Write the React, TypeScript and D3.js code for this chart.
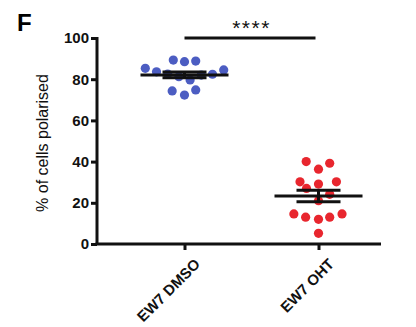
import React, { useEffect, useRef } from 'react';
import * as d3 from 'd3';

const groups = ['EW7 DMSO', 'EW7 OHT'];
const groupColors = ['#4c5dc2', '#e8262e'];
// % of cells polarised, one value per field
const dmsoValues = [89.3, 88.5, 88.8, 85.3, 83.6, 82.5, 81.2, 79.6, 82.0, 82.4, 84.5, 74.3, 72.3, 74.8];
const ohtValues = [40.0, 36.3, 39.2, 30.2, 27.0, 29.1, 30.2, 24.1, 21.0, 14.6, 13.0, 12.0, 13.0, 14.6, 5.2];
// horizontal scatter slot of every point (in dot widths)
const dmsoSlots = [-1, 0, 1, -3.5, -2.5, -1.5, -0.5, 0.5, 1.5, 2.5, 3.5, -1.1, 0, 1];
const ohtSlots = [-1.1, 0, 1, -1.65, -1.07, 0, 1.6, 1, 0, -2.2, -1.15, 0, 1, 2.1, 0];
const yTicks = [0, 20, 40, 60, 80, 100];
const significance = '****';

function App() {
  const svgRef = useRef<SVGSVGElement>(null);
  const width = 416;
  const height = 327;

  useEffect(() => {
    const svg = d3.select(svgRef.current);
    svg.selectAll('*').remove();

    const font = 'Liberation Sans, Arial, sans-serif';
    const left = 97, right = 381, top = 38, bottom = 244;

    const y = d3.scaleLinear().domain([0, 100]).range([bottom, top]);
    const x = d3.scalePoint<string>().domain(groups).range([184.5, 318.5]);
    const slot = d3.scaleLinear().domain([0, 1]).range([0, 11.2]);

    // panel letter
    svg.append('text')
      .attr('x', 17).attr('y', 31)
      .attr('font-family', font).attr('font-weight', 'bold').attr('font-size', 24)
      .text('F');

    // y axis
    const yAxis = svg.append('g')
      .attr('transform', `translate(${left},0)`)
      .call(d3.axisLeft(y).tickValues(yTicks).tickSize(6).tickPadding(2));
    yAxis.select('.domain').attr('stroke', '#111').attr('stroke-width', 3)
      .attr('d', `M0,${top - 1}V${bottom}`);
    yAxis.selectAll('.tick line').attr('stroke', '#111').attr('stroke-width', 3);
    yAxis.selectAll('.tick text')
      .attr('font-family', font).attr('font-weight', 'bold').attr('font-size', 15)
      .attr('fill', '#111');

    // x axis
    const xAxis = svg.append('g')
      .attr('transform', `translate(0,${bottom})`)
      .call(d3.axisBottom(x).tickSize(6));
    xAxis.select('.domain').attr('stroke', '#111').attr('stroke-width', 3)
      .attr('d', `M${left - 1.5},0H${right}`);
    xAxis.selectAll('.tick line').attr('stroke', '#111').attr('stroke-width', 3);
    xAxis.selectAll('.tick text')
      .attr('font-family', font).attr('font-weight', 'bold').attr('font-size', 15)
      .attr('fill', '#111')
      .attr('text-anchor', 'end')
      .attr('transform', 'translate(6,11) rotate(-45)')
      .attr('dy', '0.35em');

    // y label
    svg.append('text')
      .attr('transform', `translate(48,${(top + bottom) / 2 + 2}) rotate(-90)`)
      .attr('text-anchor', 'middle')
      .attr('font-family', font).attr('font-size', 16)
      .attr('fill', '#111')
      .text('% of cells polarised');

    // points + mean ± SEM
    const series = [
      { values: dmsoValues, slots: dmsoSlots },
      { values: ohtValues, slots: ohtSlots },
    ];
    series.forEach((s, gi) => {
      const cx = x(groups[gi]) as number;
      const g = svg.append('g');
      g.selectAll('circle')
        .data(s.values)
        .enter()
        .append('circle')
        .attr('cx', (d, i) => cx + slot(s.slots[i]))
        .attr('cy', d => y(d))
        .attr('r', 4.6)
        .attr('fill', groupColors[gi]);

      const mean = d3.mean(s.values) as number;
      const sem = (d3.deviation(s.values) as number) / Math.sqrt(s.values.length);
      g.append('line')
        .attr('x1', cx - 44).attr('x2', cx + 44)
        .attr('y1', y(mean)).attr('y2', y(mean))
        .attr('stroke', '#111').attr('stroke-width', 3);
      [mean - sem, mean + sem].forEach(v => {
        g.append('line')
          .attr('x1', cx - 22).attr('x2', cx + 22)
          .attr('y1', y(v)).attr('y2', y(v))
          .attr('stroke', '#111').attr('stroke-width', 3);
      });
      g.append('line')
        .attr('x1', cx).attr('x2', cx)
        .attr('y1', y(mean - sem)).attr('y2', y(mean + sem))
        .attr('stroke', '#111').attr('stroke-width', 3);
    });

    // significance bar
    svg.append('line')
      .attr('x1', x(groups[0]) as number).attr('x2', (x(groups[1]) as number) - 3)
      .attr('y1', top).attr('y2', top)
      .attr('stroke', '#111').attr('stroke-width', 3);
    svg.append('text')
      .attr('x', ((x(groups[0]) as number) + (x(groups[1]) as number)) / 2)
      .attr('y', 35)
      .attr('text-anchor', 'middle')
      .attr('font-family', font).attr('font-size', 21)
      .attr('letter-spacing', 1.5)
      .attr('fill', '#111')
      .text(significance);
  }, []);

  return (
    <svg
      ref={svgRef}
      width={width}
      height={height}
      style={{ position: 'absolute', left: 0, top: 0, background: '#fff' }}
    />
  );
}

export default App;
